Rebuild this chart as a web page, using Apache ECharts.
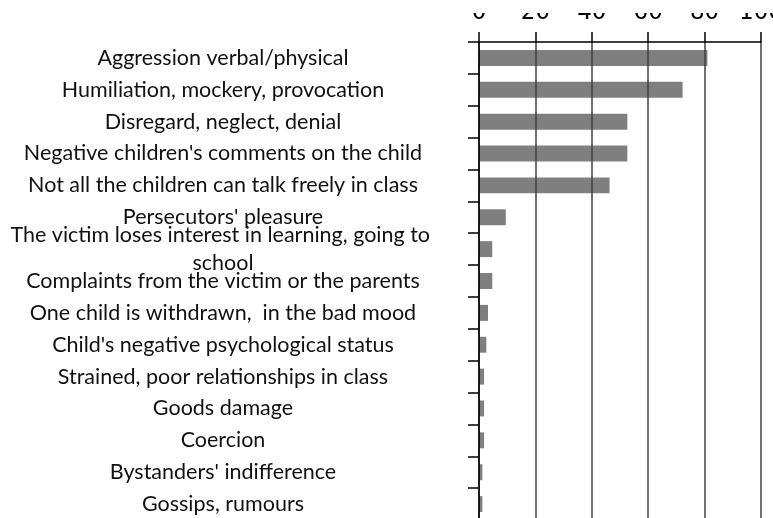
<!DOCTYPE html>
<html>
<head>
<meta charset="utf-8">
<script src="https://cdn.jsdelivr.net/npm/echarts@6/dist/echarts.min.js"></script>
<style>
  html, body { margin: 0; padding: 0; background: #fff; }
  #chart { width: 773px; height: 518px; }
</style>
</head>
<body>
<div id="chart"></div>
<script>
// categories, top to bottom
var categories = [
  'Aggression verbal/physical',
  'Humiliation, mockery, provocation',
  'Disregard, neglect, denial',
  "Negative children's comments on the child",
  'Not all the children can talk freely in class',
  "Persecutors' pleasure",
  'The victim loses interest in learning, going to school',
  'Complaints from the victim or the parents',
  'One child is withdrawn,  in the bad mood',
  "Child's negative psychological status",
  'Strained, poor relationships in class',
  'Goods damage',
  'Coercion',
  "Bystanders' indifference",
  'Gossips, rumours'
]
// bar lengths
var values = [81, 72.2, 52.6, 52.6, 46.3, 9.5, 4.7, 4.7, 3.2, 2.6, 1.8, 1.8, 1.8, 1.2, 1.2]
var xTicks = [0, 20, 40, 60, 80, 100]

var chart = echarts.init(document.getElementById('chart'))
chart.setOption({
  animation: false,
  grid: { left: 479, right: 12, top: 42, bottom: -2, outerBoundsMode: 'none' },
  // the tick numbers are cut off at the top in the source picture
  graphic: [{
    type: 'rect',
    z: 100,
    shape: { x: 0, y: 0, width: 773, height: 13 },
    style: { fill: '#fff' }
  }],
  xAxis: {
    type: 'value',
    position: 'top',
    min: xTicks[0],
    max: xTicks[xTicks.length - 1],
    interval: 20,
    z: 3,
    axisLine: { show: true, lineStyle: { color: '#000', width: 1.5 } },
    axisTick: { show: true, length: 10, lineStyle: { color: '#000', width: 1.5 } },
    axisLabel: {
      margin: 17,
      fontFamily: 'DejaVu Sans',
      fontSize: 23,
      color: '#000'
    },
    splitLine: { show: true, lineStyle: { color: '#404040', width: 1.5 } }
  },
  yAxis: {
    type: 'category',
    inverse: true,
    data: categories,
    z: 3,
    axisLine: { show: true, lineStyle: { color: '#000', width: 1.5 } },
    axisTick: { show: true, length: 11, lineStyle: { color: '#000', width: 1.5 } },
    axisLabel: {
      margin: 256,
      align: 'center',
      fontFamily: 'Lato',
      fontSize: 21.5,
      lineHeight: 28,
      color: '#111',
      width: 440,
      overflow: 'break'
    }
  },
  series: [{
    type: 'bar',
    data: values,
    barWidth: '50%',
    itemStyle: { color: '#7f7f7f' }
  }]
})
</script>
</body>
</html>
